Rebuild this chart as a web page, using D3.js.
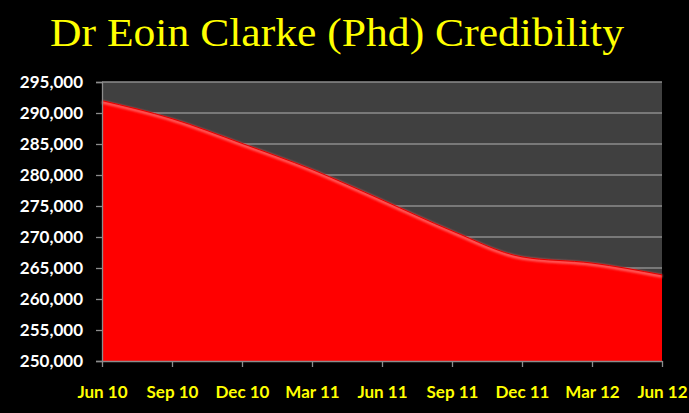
<!DOCTYPE html>
<html><head><meta charset="utf-8">
<script src="https://cdn.jsdelivr.net/npm/d3@7"></script>
<style>
html,body{margin:0;padding:0;background:#000;}
svg{display:block;}
</style></head>
<body>
<script>
const categories = ["Jun 10","Sep 10","Dec 10","Mar 11","Jun 11","Sep 11","Dec 11","Mar 12","Jun 12"];
const values = [292000, 289100, 285100, 280900, 276000, 271000, 266800, 265800, 263900];
const yTicks = [250000,255000,260000,265000,270000,275000,280000,285000,290000,295000];
const title = "Dr Eoin Clarke (Phd) Credibility";

const W = 689, H = 413;
const m = {left:102, right:27, top:82, bottom:52};
const svg = d3.select("body").append("svg").attr("width",W).attr("height",H);
svg.append("rect").attr("width",W).attr("height",H).attr("fill","#000");

const x = d3.scalePoint().domain(categories).range([m.left, W - m.right]);
const y = d3.scaleLinear().domain([250000,295000]).range([H - m.bottom, m.top]);

const defs = svg.append("defs");
const f = defs.append("filter").attr("id","blur").attr("x","-5%").attr("y","-20%").attr("width","110%").attr("height","140%");
f.append("feGaussianBlur").attr("stdDeviation",1.2);

// plot background
svg.append("rect").attr("x",m.left).attr("y",m.top)
  .attr("width",W-m.right-m.left).attr("height",H-m.bottom-m.top).attr("fill","#404040");

// grid lines
svg.append("g").selectAll("line").data(yTicks.slice(1)).join("line")
  .attr("x1",m.left).attr("x2",W-m.right)
  .attr("y1",d=>y(d)).attr("y2",d=>y(d))
  .attr("stroke","#8c8c8c").attr("stroke-width",1.3);

// area
const curve = d3.curveMonotoneX;
const area = d3.area().x((d,i)=>x(categories[i])).y0(y(250000)).y1(d=>y(d)).curve(curve);
const line = d3.line().x((d,i)=>x(categories[i])).y(d=>y(d)).curve(curve);
svg.append("path").datum(values).attr("d",area).attr("fill","#ff0000");
svg.append("path").datum(values).attr("d",line).attr("fill","none")
  .attr("stroke","#ff6060").attr("stroke-width",3).attr("filter","url(#blur)")
  .attr("transform","translate(0,1.5)");
svg.append("path").datum(values).attr("d",line).attr("fill","none")
  .attr("stroke","#e00000").attr("stroke-width",1);

// axes
const yAxis = d3.axisLeft(y).tickValues(yTicks).tickSize(6).tickFormat(d3.format(","));
const gy = svg.append("g").attr("transform",`translate(${m.left},0)`).call(yAxis);
gy.select(".domain").attr("stroke","#8c8c8c").attr("stroke-width",1.3);
gy.selectAll(".tick line").attr("stroke","#8c8c8c").attr("stroke-width",1.3);
gy.selectAll(".tick text").attr("fill","#fff").attr("x",-19)
  .style("font-family","Lato, 'Open Sans', sans-serif").style("font-weight","bold").style("font-size","17px");

const xAxis = d3.axisBottom(x).tickSize(6).tickSizeOuter(0);
const gx = svg.append("g").attr("transform",`translate(0,${H-m.bottom})`).call(xAxis);
gx.select(".domain").attr("stroke","#8c8c8c").attr("stroke-width",1.3);
gx.selectAll(".tick line").attr("stroke","#8c8c8c").attr("stroke-width",1.3);
gx.selectAll(".tick text").attr("fill","#ffff00").attr("y",25)
  .style("font-family","Lato, 'Open Sans', sans-serif").style("font-weight","bold").style("font-size","17px");

// title
svg.append("text").attr("x",50).attr("y",46)
  .attr("textLength",574).attr("lengthAdjust","spacingAndGlyphs")
  .attr("fill","#ffff00")
  .style("font-family","'Liberation Serif', 'DejaVu Serif', serif")
  .style("font-size","41px")
  .text(title);
</script>
</body></html>
